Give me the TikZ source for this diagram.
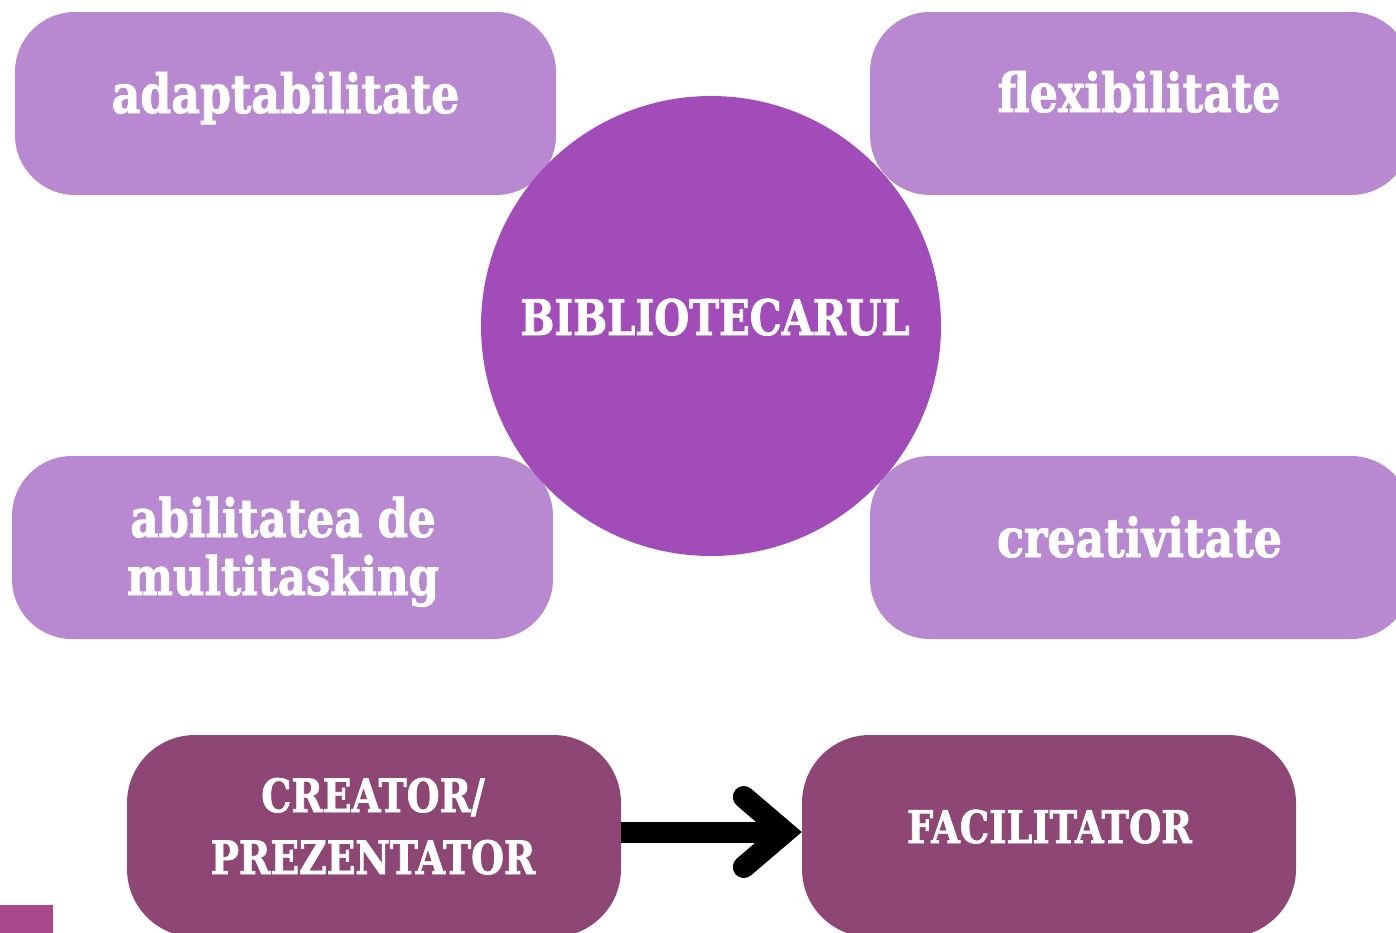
\documentclass[tikz,border=0pt]{standalone}
\usepackage{fontspec}
\newfontfamily\lblfont{DejaVu Serif}[UprightFont={* Bold}, FakeStretch=0.82, FakeBold=1.5]
\usetikzlibrary{calc}
\definecolor{lilac}{RGB}{184,136,208}
\definecolor{hubviolet}{RGB}{162,76,186}
\definecolor{plum}{RGB}{142,70,117}
\definecolor{rose}{RGB}{168,72,138}
\newcommand{\lblsize}[2]{\lblfont\fontsize{#1}{#2}\selectfont}

\begin{document}
\begin{tikzpicture}[x=1pt,y=-1pt,
  softbox/.style={fill=lilac, rounded corners=60pt, minimum width=541pt,
    minimum height=183pt, inner sep=0pt},
  darkbox/.style={fill=plum, rounded corners=68pt, minimum width=494pt,
    minimum height=202pt, inner sep=0pt},
  hub/.style={circle, fill=hubviolet, minimum size=460pt, inner sep=0pt},
  lbl/.style={text=white, inner sep=0pt, align=center},
  shaft/.style={draw=black, line width=21pt},
  chevron/.style={draw=black, line width=22pt, line cap=round, line join=miter}]

\fill[white] (0,0) rectangle (1396,932);
\useasboundingbox (0,0) rectangle (1396,932);
\clip (0,0) rectangle (1396,932);

% qualities around the librarian
\node[softbox] (adapt) at (285.5,103.5) {};
\node[softbox] (flex)  at (1140.5,103.5) {};
\node[softbox] (multi) at (282.5,547.5) {};
\node[softbox] (creat) at (1140.5,547.5) {};
\node[hub] (hub) at (711,326) {};

% multi-line labels are anchored at the baseline of their last line
\node[lbl, anchor=base, font=\lblsize{54}{60}] (adaptT) at (285.5,113) {adaptabilitate};
\node[lbl, anchor=base, font=\lblsize{54}{60}] (flexT)  at (1139,112) {flexibilitate};
\node[lbl, anchor=base, font=\lblsize{49}{60}] (hubT)   at (715,335) {BIBLIOTECARUL};
\node[lbl, anchor=base, font=\lblsize{54}{60}] (creatT) at (1139.5,557) {creativitate};
\node[lbl, anchor=base, font=\lblsize{53}{58}] (multiT) at (283,595) {abilitatea de\\multitasking};

% role shift
\node[darkbox] (creator) at (374,836) {};
\node[darkbox] (facil)   at (1049,836) {};
\node[lbl, anchor=base, font=\lblsize{46}{62}] (creatorT) at (373,874) {CREATOR/\\PREZENTATOR};
\node[lbl, anchor=base, font=\lblsize{45}{60}] (facilT)   at (1049.5,843) {FACILITATOR};

\coordinate (tipjoin) at ($(facil.west)+(-17,-4)$);
\draw[shaft] (creator.east |- tipjoin) -- (tipjoin);
\draw[chevron] ($(tipjoin)+(-41,-35)$) -- (tipjoin) -- ($(tipjoin)+(-41,35)$);

% corner strip
\fill[rose] (0,905) rectangle (53,940);
\end{tikzpicture}
\end{document}
